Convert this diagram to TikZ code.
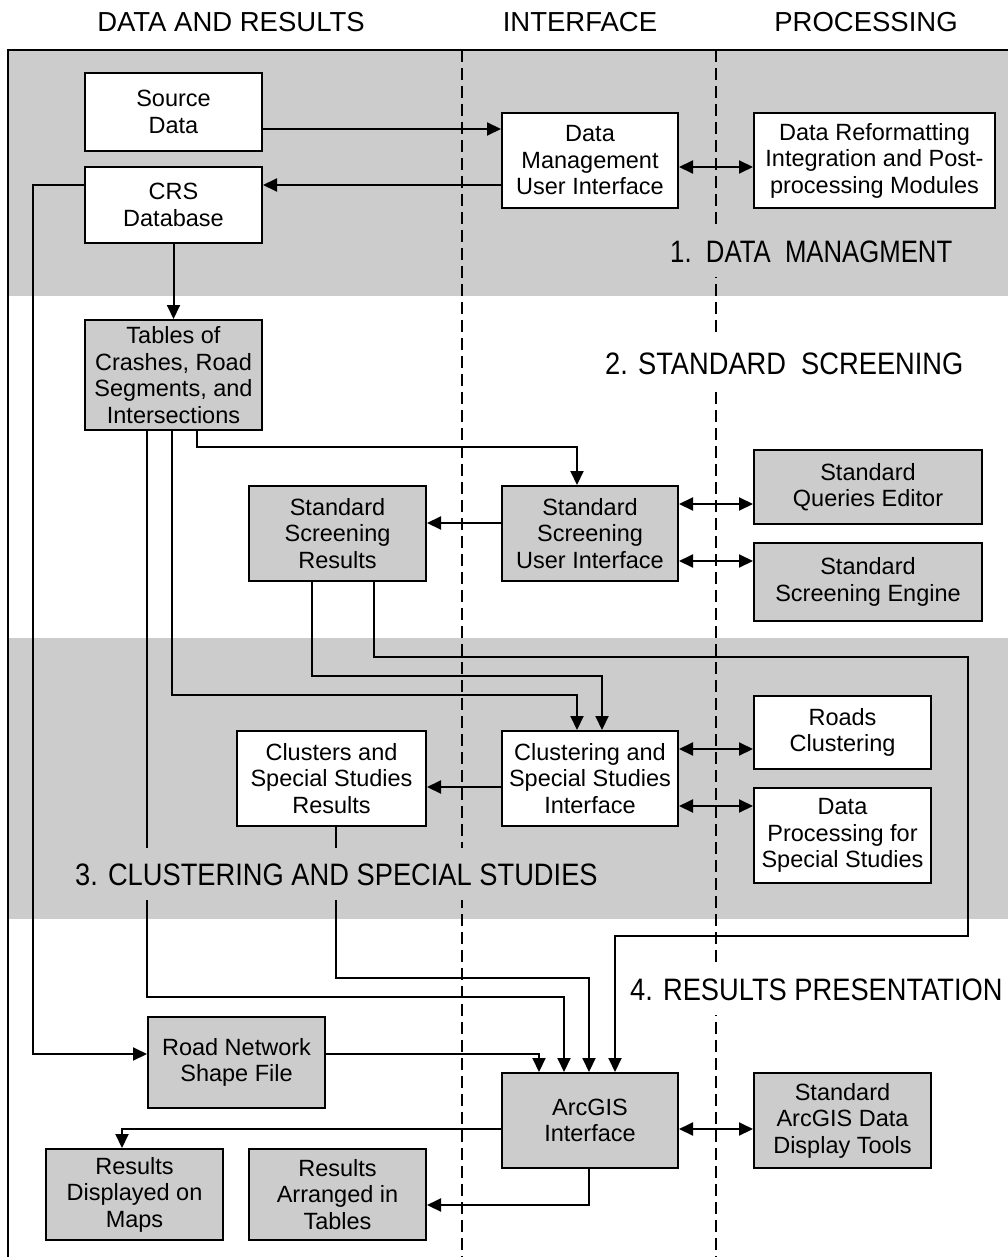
\documentclass[tikz,border=0pt]{standalone}
\usepackage{fontspec}
\setmainfont{Liberation Sans}
\newfontfamily\bandfont{Liberation Sans}[FakeStretch=0.88]
\newfontfamily\bandfontn{Liberation Sans}[FakeStretch=0.83]
\usetikzlibrary{arrows.meta}
\definecolor{bandgray}{RGB}{204,204,204}
\definecolor{boxgray}{RGB}{204,204,204}
\tikzset{
  box/.style={draw, line width=2pt, anchor=north west, align=center, inner sep=0pt,
              font=\fontsize{23.5}{26.5}\selectfont},
  wbox/.style={box, fill=white},
  gbox/.style={box, fill=boxgray},
  conn/.style={line width=2pt},
  tip/.style={},
  arr/.style={conn, -{Triangle[length=14pt,width=13pt]}},
  darr/.style={conn, {Triangle[length=14pt,width=13pt]}-{Triangle[length=14pt,width=13pt]}},
  lane/.style={line width=1.4pt, dash pattern=on 12pt off 6pt},
  band/.style={anchor=base west, inner xsep=4pt, inner ysep=15pt,
               font=\bandfont\fontsize{31}{31}\selectfont},
  head/.style={anchor=base, inner sep=0pt, font=\fontsize{27.5}{30}\selectfont},
}
\begin{document}
\begin{tikzpicture}[x=1pt,y=-1pt]
\useasboundingbox (0,0) rectangle (1008,1257);

% shaded stage bands and outer frame
\fill[bandgray] (8,50) rectangle (1008,296);
\fill[bandgray] (8,638) rectangle (1008,919);
\draw[line width=2pt] (1008,50) -- (8,50) -- (8,1257);

% lane separators
\draw[lane] (462,50) -- (462,1257);
\draw[lane] (716,50) -- (716,1257);

% column headings
\node[head] (hdata) at (231,32) {DATA AND RESULTS};
\node[head] (hif)   at (580,32) {INTERFACE};
\node[head] (hproc) at (866,32) {PROCESSING};

% boxes: data management
\node[wbox, minimum width=177pt, minimum height=78pt] (src) at (84,72) {Source\\Data};
\node[wbox, minimum width=177pt, minimum height=76pt] (crs) at (84,166) {CRS\\Database};
\node[wbox, minimum width=176pt, minimum height=95pt] (dmui) at (501,112) {Data\\Management\\User Interface};
\node[wbox, minimum width=241pt, minimum height=95pt] (reform) at (753,112) {Data Reformatting\\Integration and Post-\\processing Modules};

% boxes: standard screening
\node[gbox, minimum width=177pt, minimum height=110pt] (tables) at (84,319) {Tables of\\Crashes, Road\\Segments, and\\Intersections};
\node[gbox, minimum width=177pt, minimum height=95pt] (ssr) at (248,485) {Standard\\Screening\\Results};
\node[gbox, minimum width=176pt, minimum height=95pt] (ssui) at (501,485) {Standard\\Screening\\User Interface};
\node[gbox, minimum width=228pt, minimum height=74pt] (sqe) at (753,449) {Standard\\Queries Editor};
\node[gbox, minimum width=228pt, minimum height=78pt] (sse) at (753,542) {Standard\\Screening Engine};

% boxes: clustering and special studies
\node[wbox, minimum width=189pt, minimum height=95pt] (cssr) at (236,730) {Clusters and\\Special Studies\\Results};
\node[wbox, minimum width=176pt, minimum height=95pt] (cssi) at (501,730) {Clustering and\\Special Studies\\Interface};
\node[wbox, minimum width=177pt, minimum height=73pt] (roads) at (753,695) {Roads\\Clustering};
\node[wbox, minimum width=177pt, minimum height=95pt] (dpss) at (753,787) {Data\\Processing for\\Special Studies};

% boxes: results presentation
\node[gbox, minimum width=177pt, minimum height=91pt] (rnsf) at (147,1016) {Road Network\\Shape File};
\node[gbox, minimum width=176pt, minimum height=95pt] (arcgis) at (501,1072) {ArcGIS\\Interface};
\node[gbox, minimum width=177pt, minimum height=95pt] (sadt) at (753,1072) {Standard\\ArcGIS Data\\Display Tools};
\node[gbox, minimum width=177pt, minimum height=91pt] (maps) at (45,1148) {Results\\Displayed on\\Maps};
\node[gbox, minimum width=177pt, minimum height=91pt] (rtab) at (248,1148) {Results\\Arranged in\\Tables};

% routing points
\coordinate (yA) at (0,129);
\coordinate (yB) at (0,185);
\coordinate (yC) at (0,167);
\coordinate (cl) at (33,1054);
\coordinate (k1) at (197,447);
\coordinate (k2) at (577,447);
\coordinate (yE) at (0,523);
\coordinate (yF) at (0,504);
\coordinate (yG) at (0,561);
\coordinate (m1) at (147,997);
\coordinate (m2) at (564,997);
\coordinate (n1) at (172,695);
\coordinate (n2) at (577,695);
\coordinate (p1) at (312,676);
\coordinate (p2) at (602,676);
\coordinate (q1) at (374,657);
\coordinate (q2) at (968,657);
\coordinate (q3) at (968,936);
\coordinate (q4) at (615,936);
\coordinate (yH) at (0,787);
\coordinate (yI) at (0,749);
\coordinate (yJ) at (0,806);
\coordinate (r1) at (336,978);
\coordinate (r2) at (589,978);
\coordinate (s1) at (539,1054);
\coordinate (yK) at (0,1129);
\coordinate (u1) at (122,1129);
\coordinate (v1) at (589,1205);

% connectors: data management
\draw[arr] (src.east |- yA) -- (dmui.west |- yA);
\draw[arr] (dmui.west |- yB) -- (crs.east |- yB);
\draw[darr] (dmui.east |- yC) -- (reform.west |- yC);
\draw[arr] (crs.south) -- (tables.north);
\draw[arr] (crs.west |- yB) -| (cl) -- (rnsf.west |- cl);

% connectors: standard screening
\draw[arr] (tables.south -| k1) -- (k1) -- (k2) -- (ssui.north -| k2);
\draw[arr] (ssui.west |- yE) -- (ssr.east |- yE);
\draw[darr] (ssui.east |- yF) -- (sqe.west |- yF);
\draw[darr] (ssui.east |- yG) -- (sse.west |- yG);

% connectors: feeds into clustering and presentation
\draw[arr] (tables.south -| m1) -- (m1) -- (m2) -- (arcgis.north -| m2);
\draw[arr] (tables.south -| n1) -- (n1) -- (n2) -- (cssi.north -| n2);
\draw[arr] (ssr.south -| p1) -- (p1) -- (p2) -- (cssi.north -| p2);
\draw[arr] (ssr.south -| q1) -- (q1) -- (q2) -- (q3) -- (q4) -- (arcgis.north -| q4);

% connectors: clustering and special studies
\draw[arr] (cssi.west |- yH) -- (cssr.east |- yH);
\draw[darr] (cssi.east |- yI) -- (roads.west |- yI);
\draw[darr] (cssi.east |- yJ) -- (dpss.west |- yJ);

% connectors: results presentation
\draw[arr] (cssr.south -| r1) -- (r1) -- (r2) -- (arcgis.north -| r2);
\draw[arr] (rnsf.east |- s1) -- (s1) -- (arcgis.north -| s1);
\draw[darr] (arcgis.east |- yK) -- (sadt.west |- yK);
\draw[arr] (arcgis.west |- yK) -- (u1) -- (maps.north -| u1);
\draw[arr] (arcgis.south -| v1) -- (v1) -- (rtab.east |- v1);

% stage titles (their fill masks the lines behind them)
\node[band, fill=bandgray, font=\bandfontn\fontsize{31}{31}\selectfont] (t1) at (666,262) {1.\ \ DATA\ \ MANAGMENT};
\node[band, fill=white] (t2) at (601,374) {2. STANDARD\ \ SCREENING};
\node[band, fill=bandgray] (t3) at (71,885) {3. CLUSTERING AND SPECIAL STUDIES};
\node[band, fill=white] (t4) at (626,1000) {4. RESULTS PRESENTATION};
\end{tikzpicture}
\end{document}
